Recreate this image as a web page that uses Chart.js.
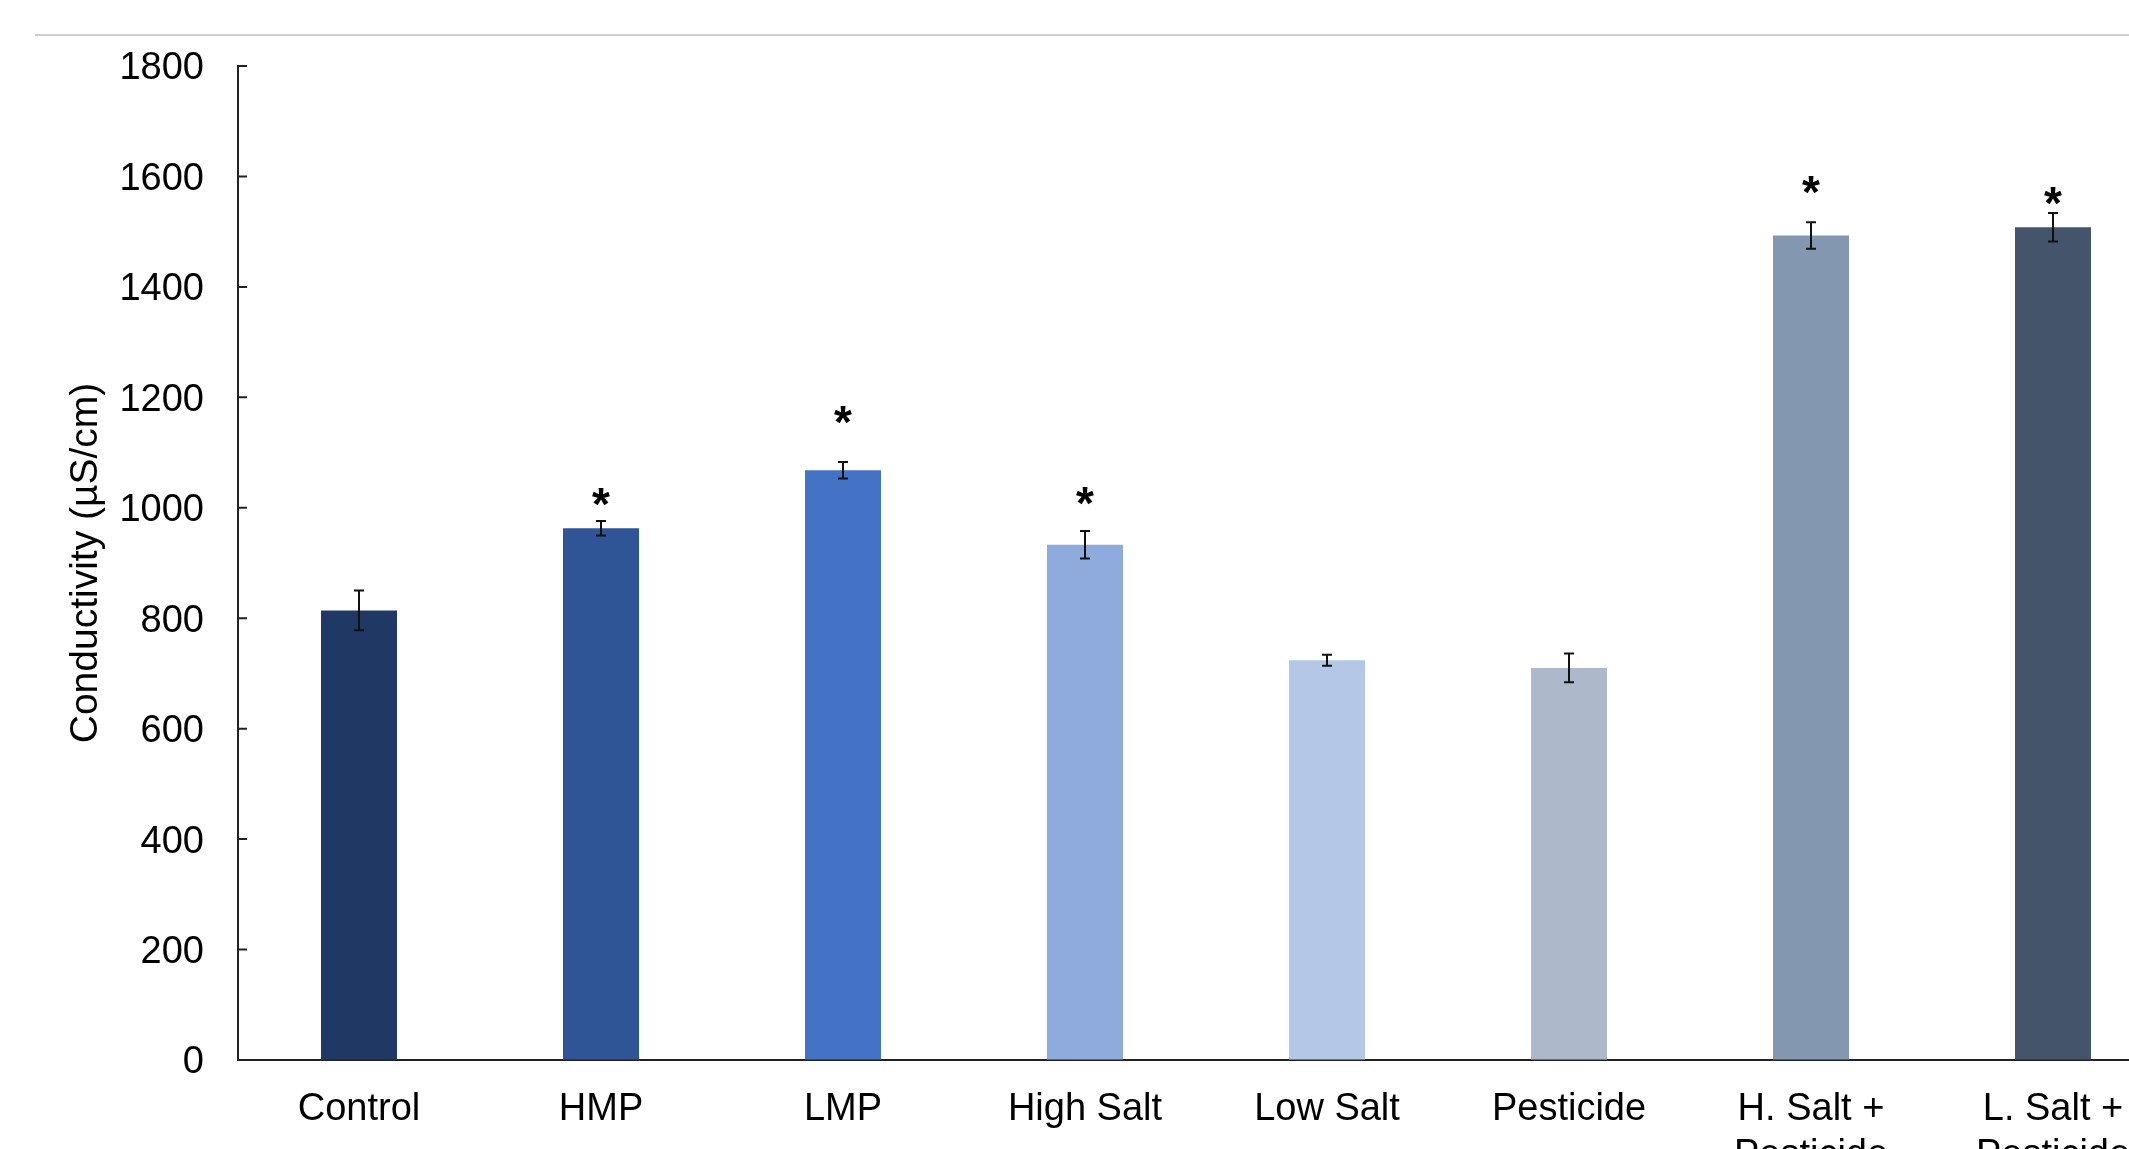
<!DOCTYPE html>
<html>
<head>
<meta charset="utf-8">
<script src="https://cdn.jsdelivr.net/npm/chart.js@4/dist/chart.umd.min.js"></script>
<style>
  html, body { margin: 0; padding: 0; background: #fff; overflow: hidden; width: 2129px; height: 1149px; }
  #topline { position: absolute; top: 34px; left: 35px; right: 0; height: 2px; background: #cfcfcf; }
  #wrap { position: absolute; left: 0; top: 0; width: 2200px; height: 1200px; }
</style>
</head>
<body>
<div id="topline"></div>
<div id="wrap"><canvas id="myChart" width="2200" height="1200"></canvas></div>
<script>
const categories = ['Control', 'HMP', 'LMP', 'High Salt', 'Low Salt', 'Pesticide',
  ['H. Salt +', 'Pesticide'], ['L. Salt +', 'Pesticide']];
const conductivity = [814, 963, 1068, 933, 724, 710, 1493, 1508];
const errors = [36, 13, 15, 25, 10, 26, 24, 26];
// height where the * marks sit (null = no mark)
const starLevels = [null, 1016, 1164, 1018, null, null, 1580, 1561];
const barColors = ['#203864', '#2F5597', '#4472C4', '#8FAADC', '#B4C7E7', '#ADB9CA', '#8497B0', '#44546A'];
const yTicks = [0, 200, 400, 600, 800, 1000, 1200, 1400, 1600, 1800];

const fontFamily = '"Liberation Sans", Arial, Helvetica, sans-serif';

// error bars, stars and inward y ticks
const extras = {
    id: 'extras',
    afterDatasetsDraw(chart) {
        const ctx = chart.ctx;
        const x = chart.scales.x, y = chart.scales.y;
        ctx.save();
        ctx.strokeStyle = '#111';
        ctx.lineWidth = 2;
        conductivity.forEach((v, i) => {
            const cx = x.getPixelForValue(i);
            const top = y.getPixelForValue(v + errors[i]);
            const bot = y.getPixelForValue(v - errors[i]);
            ctx.beginPath();
            ctx.moveTo(cx, top); ctx.lineTo(cx, bot);
            ctx.moveTo(cx - 5, top); ctx.lineTo(cx + 5, top);
            ctx.moveTo(cx - 5, bot); ctx.lineTo(cx + 5, bot);
            ctx.stroke();
        });
        ctx.fillStyle = '#000';
        ctx.font = 'bold 46px ' + fontFamily;
        ctx.textAlign = 'center';
        ctx.textBaseline = 'middle';
        starLevels.forEach((s, i) => {
            if (s === null) return;
            ctx.fillText('*', x.getPixelForValue(i), y.getPixelForValue(s) + 8);
        });
        ctx.strokeStyle = '#222';
        ctx.beginPath();
        yTicks.forEach(t => {
            const py = y.getPixelForValue(t);
            ctx.moveTo(y.right, py); ctx.lineTo(y.right + 9, py);
        });
        ctx.stroke();
        ctx.restore();
    }
};

const ctx = document.getElementById('myChart').getContext('2d');
const myChart = new Chart(ctx, {
    type: 'bar',
    data: {
        labels: categories,
        datasets: [{
            data: conductivity,
            backgroundColor: barColors,
            borderWidth: 0,
            categoryPercentage: 1,
            barPercentage: 0.314
        }]
    },
    options: {
        responsive: false,
        animation: false,
        devicePixelRatio: 1,
        layout: { padding: { top: 66, right: 26, left: 0, bottom: 0 } },
        plugins: { legend: { display: false }, tooltip: { enabled: false } },
        scales: {
            x: {
                grid: { display: true, drawOnChartArea: false, drawTicks: false },
                border: { display: true, color: '#222', width: 2 },
                ticks: {
                    color: '#000', padding: 27, maxRotation: 0, autoSkip: false,
                    font: { family: fontFamily, size: 38, lineHeight: 1.2 }
                },
                afterFit(scale) { scale.height = 140; }
            },
            y: {
                min: 0, max: 1800,
                grid: { display: true, drawOnChartArea: false, drawTicks: false },
                border: { display: true, color: '#222', width: 2 },
                ticks: {
                    stepSize: 200, color: '#000', padding: 34, labelOffset: 3,
                    font: { family: fontFamily, size: 38 },
                    callback: v => String(v)
                },
                title: {
                    display: true, text: 'Conductivity (µS/cm)', color: '#000',
                    font: { family: fontFamily, size: 39, lineHeight: 1.2 },
                    padding: { top: 63, bottom: 0 }
                },
                afterFit(scale) { scale.width = 238; }
            }
        }
    },
    plugins: [extras]
});
</script>
</body>
</html>
